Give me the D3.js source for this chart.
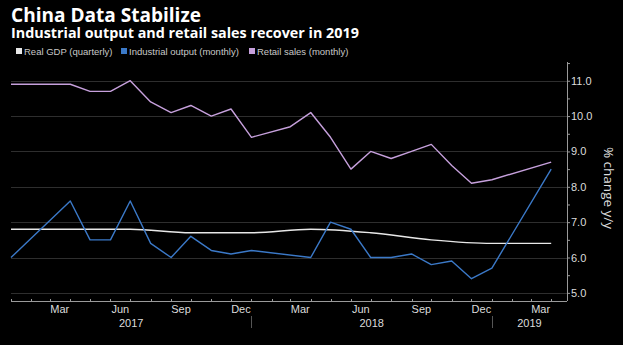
<!DOCTYPE html>
<html>
<head>
<meta charset="utf-8">
<script src="https://cdn.jsdelivr.net/npm/d3@7"></script>
<style>
  html, body { margin: 0; padding: 0; background: #000; }
  svg { display: block; font-family: "Liberation Sans", Arial, sans-serif; }
</style>
</head>
<body>
<svg width="623" height="345"></svg>
<script>
  // monthly prints are placed at the end of their month
  const retailMonths = ['2016-12', '2017-03', '2017-04', '2017-05', '2017-06', '2017-07', '2017-08',
    '2017-09', '2017-10', '2017-11', '2017-12', '2018-02', '2018-03', '2018-04', '2018-05',
    '2018-06', '2018-07', '2018-08', '2018-09', '2018-10', '2018-11', '2018-12', '2019-03'];
  const retailValues = [10.9, 10.9, 10.7, 10.7, 11.0, 10.4, 10.1, 10.3, 10.0, 10.2, 9.4, 9.7, 10.1,
    9.4, 8.5, 9.0, 8.8, 9.0, 9.2, 8.6, 8.1, 8.2, 8.7];

  const industryMonths = ['2016-12', '2017-03', '2017-04', '2017-05', '2017-06', '2017-07', '2017-08',
    '2017-09', '2017-10', '2017-11', '2017-12', '2018-03', '2018-04', '2018-05', '2018-06',
    '2018-07', '2018-08', '2018-09', '2018-10', '2018-11', '2018-12', '2019-03'];
  const industryValues = [6.0, 7.6, 6.5, 6.5, 7.6, 6.4, 6.0, 6.6, 6.2, 6.1, 6.2, 6.0, 7.0, 6.8, 6.0,
    6.0, 6.1, 5.8, 5.9, 5.4, 5.7, 8.5];

  const gdpMonths = ['2016-12', '2017-03', '2017-06', '2017-09', '2017-12', '2018-03', '2018-06',
    '2018-09', '2018-12', '2019-03'];
  const gdpValues = [6.8, 6.8, 6.8, 6.7, 6.7, 6.8, 6.7, 6.5, 6.4, 6.4];

  const yTicks = [5, 6, 7, 8, 9, 10, 11];
  const monthLabels = ['Mar', 'Jun', 'Sep', 'Dec'];
  const years = [2017, 2018, 2019];

  const series = [
    { name: 'Real GDP (quarterly)', color: '#e8e8e8', months: gdpMonths, values: gdpValues, smooth: true },
    { name: 'Industrial output (monthly)', color: '#3b79c8', months: industryMonths, values: industryValues },
    { name: 'Retail sales (monthly)', color: '#c6a0dc', months: retailMonths, values: retailValues }
  ];

  const parseMonth = d3.timeParse('%Y-%m');
  const monthEnd = m => d3.timeMonth.offset(parseMonth(m), 1);

  const svg = d3.select('svg');
  const plot = { left: 11, right: 567, top: 62, bottom: 301 };

  const x = d3.scaleTime()
      .domain([new Date(2017, 0, 1), new Date(2019, 3, 25)])
      .range([plot.left, plot.right]);

  const y = d3.scaleLinear()
      .domain([4.77, 11.53])
      .range([plot.bottom, plot.top]);

  // shrink or grow a text's font size until it spans the given width
  function fitWidth(sel, width) {
    const size = parseFloat(sel.style('font-size'));
    const w = sel.node().getComputedTextLength();
    sel.style('font-size', (size * width / w).toFixed(2) + 'px');
  }

  // titles
  svg.append('text')
      .attr('x', 11).attr('y', 22)
      .attr('fill', '#fff')
      .style('font-family', '"Open Sans", sans-serif')
      .style('font-size', '19px').style('font-weight', 'bold')
      .text('China Data Stabilize')
      .call(fitWidth, 190);

  svg.append('text')
      .attr('x', 11).attr('y', 38)
      .attr('fill', '#fff')
      .style('font-family', '"Open Sans", sans-serif')
      .style('font-size', '14px').style('font-weight', 'bold')
      .text('Industrial output and retail sales recover in 2019')
      .call(fitWidth, 348);

  // legend
  const legendX = [16, 121, 249];
  const legend = svg.append('g').selectAll('g')
    .data(series)
    .join('g')
      .attr('transform', (d, i) => `translate(${legendX[i]},52)`);

  legend.append('rect')
      .attr('x', 0).attr('y', -4)
      .attr('width', 6).attr('height', 6)
      .attr('fill', d => d.color);

  legend.append('text')
      .attr('x', 8).attr('y', 3)
      .attr('fill', '#c8c8c8')
      .style('font-size', '9.5px')
      .text(d => d.name);

  // horizontal grid
  svg.append('g')
      .attr('stroke', '#2e2e2e')
      .attr('stroke-width', 1)
    .selectAll('line')
    .data(yTicks)
    .join('line')
      .attr('x1', plot.left).attr('x2', plot.right)
      .attr('y1', d => Math.round(y(d)) + 0.5)
      .attr('y2', d => Math.round(y(d)) + 0.5);

  // right value axis
  const yAxis = d3.axisRight(y)
      .tickValues(d3.range(5, 11.51, 0.5))
      .tickSize(3)
      .tickFormat(d => Number.isInteger(d) ? d3.format('.1f')(d) : '');

  svg.append('g')
      .attr('transform', `translate(${plot.right},0)`)
      .call(yAxis)
      .attr('font-family', null)
      .call(g => g.select('.domain').attr('stroke', '#9a9a9a').attr('d', `M0.5,${plot.top}V${plot.bottom}`))
      .call(g => g.selectAll('.tick line').attr('stroke', '#9a9a9a'))
      .call(g => g.selectAll('.tick text')
          .attr('x', 4)
          .attr('fill', '#dcdcdc')
          .style('font-size', '11px'));

  svg.append('text')
      .attr('transform', `translate(604,188) rotate(90)`)
      .attr('text-anchor', 'middle')
      .attr('fill', '#dcdcdc')
      .style('font-family', '"Open Sans", sans-serif')
      .style('font-size', '13.5px')
      .text('% change y/y');

  // bottom time axis
  const months = d3.timeMonth.range(new Date(2017, 0, 1), new Date(2019, 3, 2));
  const xAxis = svg.append('g');

  xAxis.append('line')
      .attr('x1', plot.left).attr('x2', plot.right)
      .attr('y1', plot.bottom + 0.5).attr('y2', plot.bottom + 0.5)
      .attr('stroke', '#9a9a9a');

  xAxis.selectAll('.mtick')
    .data(months)
    .join('line')
      .attr('class', 'mtick')
      .attr('x1', d => Math.round(x(d)) + 0.5).attr('x2', d => Math.round(x(d)) + 0.5)
      .attr('y1', plot.bottom - 2).attr('y2', plot.bottom + 1)
      .attr('stroke', '#9a9a9a');

  const midMonth = d => new Date(d.getFullYear(), d.getMonth(), 16);
  xAxis.selectAll('.mlabel')
    .data(months.filter(d => monthLabels.includes(d3.timeFormat('%b')(d))))
    .join('text')
      .attr('class', 'mlabel')
      .attr('x', d => x(midMonth(d)))
      .attr('y', plot.bottom + 12)
      .attr('text-anchor', 'middle')
      .attr('fill', '#dcdcdc')
      .style('font-size', '11px')
      .text(d3.timeFormat('%b'));

  const yearMid = yr => {
    const start = Math.max(x(new Date(yr, 0, 1)), plot.left);
    const end = Math.min(x(new Date(yr + 1, 0, 1)), plot.right);
    return (start + end) / 2;
  };

  xAxis.selectAll('.ylabel')
    .data(years)
    .join('text')
      .attr('class', 'ylabel')
      .attr('x', yearMid)
      .attr('y', plot.bottom + 26)
      .attr('text-anchor', 'middle')
      .attr('fill', '#dcdcdc')
      .style('font-size', '11px')
      .text(d => d);

  xAxis.selectAll('.ysep')
    .data(years.slice(1))
    .join('line')
      .attr('class', 'ysep')
      .attr('x1', d => Math.round(x(new Date(d, 0, 1))) + 0.5)
      .attr('x2', d => Math.round(x(new Date(d, 0, 1))) + 0.5)
      .attr('y1', plot.bottom + 15).attr('y2', plot.bottom + 27)
      .attr('stroke', '#555');

  // series lines
  const line = d3.line()
      .x(d => x(d.date))
      .y(d => y(d.value));

  svg.append('g')
    .selectAll('path')
    .data(series)
    .join('path')
      .attr('fill', 'none')
      .attr('stroke', d => d.color)
      .attr('stroke-width', 1.4)
      .attr('stroke-linejoin', 'round')
      .attr('d', d => line.curve(d.smooth ? d3.curveMonotoneX : d3.curveLinear)(
          d.months.map((m, i) => ({ date: monthEnd(m), value: d.values[i] }))));
</script>
</body>
</html>
